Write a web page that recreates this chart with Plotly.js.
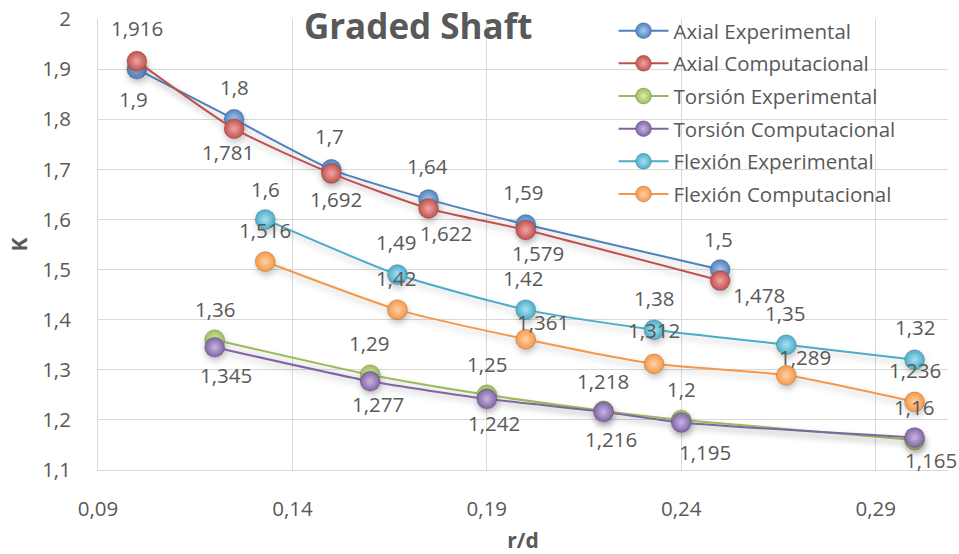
<!DOCTYPE html>
<html>
<head>
<meta charset="utf-8">
<script src="https://cdn.plot.ly/plotly-3.0.1.min.js"></script>
<style>
  html, body { margin: 0; padding: 0; background: #fff; }
  #chart { width: 959px; height: 554px; }
  /* soft shadow under the curves and spheres */
  .scatterlayer .trace { filter: drop-shadow(1px 4px 3px rgba(0,0,0,0.22)); }
</style>
</head>
<body>
<div id="chart"></div>
<script>
// r/d values of each test family
const axialX   = [0.10, 0.125, 0.15, 0.175, 0.20, 0.25];
const torsionX = [0.12, 0.16, 0.19, 0.22, 0.24, 0.30];
const flexionX = [0.133, 0.167, 0.20, 0.233, 0.267, 0.30];

// stress concentration factor K
const axialExp    = [1.9, 1.8, 1.7, 1.64, 1.59, 1.5];
const axialComp   = [1.916, 1.781, 1.692, 1.622, 1.579, 1.478];
const torsionExp  = [1.36, 1.29, 1.25, 1.218, 1.2, 1.16];
const torsionComp = [1.345, 1.277, 1.242, 1.216, 1.195, 1.165];
const flexionExp  = [1.6, 1.49, 1.42, 1.38, 1.35, 1.32];
const flexionComp = [1.516, 1.42, 1.361, 1.312, 1.289, 1.236];

const seriesNames = ['Axial Experimental', 'Axial Computacional',
  'Torsión Experimental', 'Torsión Computacional',
  'Flexión Experimental', 'Flexión Computacional'];

const xTickVals = [0.09, 0.14, 0.19, 0.24, 0.29];

// appearance of each series: base colour, highlight, label offsets [dx, dy] in px
const styles = [
  { color: '#4F81BD', light: '#A9C8EE', off: [[-3,30],[0,-32],[-2,-33],[-1,-33],[-3,-32],[-2,-31]] },
  { color: '#C0504D', light: '#F0A6A4', off: [[0,-33],[-6,23],[5,26],[17,25],[12,23],[39,14]] },
  { color: '#9BBB59', light: '#DCEFAE', off: [[0,-31],[-1,-32],[0,-31],[0,-30],[0,-31],[-1,-33]] },
  { color: '#8064A2', light: '#C9B5E6', off: [[11,28],[8,23],[7,24],[8,27],[24,30],[16,23]] },
  { color: '#4BACC6', light: '#A8E2F2', off: [[0,-30],[-1,-33],[-3,-32],[0,-32],[-1,-32],[0,-33]] },
  { color: '#F79646', light: '#FDD3A6', off: [[0,-32],[-1,-32],[17,-17],[0,-34],[19,-18],[0,-32]] }
];

const seriesX = [axialX, axialX, torsionX, torsionX, flexionX, flexionX];
const seriesY = [axialExp, axialComp, torsionExp, torsionComp, flexionExp, flexionComp];

const fmt = v => String(v).replace('.', ',');

const traces = seriesY.map((ys, i) => ({
  type: 'scatter',
  mode: 'lines+markers',
  name: seriesNames[i],
  legendgroup: 'g' + i,
  x: seriesX[i],
  y: ys,
  line: { color: styles[i].color, width: 2, shape: 'spline', smoothing: 0.6 },
  marker: {
    size: 20,
    color: styles[i].color,
    gradient: { type: 'radial', color: styles[i].light },
    line: { width: 0.6, color: 'rgba(0,0,0,0.25)' }
  },
  hoverinfo: 'x+y'
}));

const labelFont = { family: 'Open Sans, sans-serif', size: 20.5, color: '#595959' };
const annotations = [];
seriesY.forEach((ys, i) => {
  ys.forEach((v, j) => {
    const o = styles[i].off[j];
    annotations.push({
      x: seriesX[i][j], y: v, xref: 'x', yref: 'y',
      text: fmt(v), showarrow: false, font: labelFont,
      xanchor: 'center', yanchor: 'middle',
      xshift: o[0], yshift: -o[1]
    });
  });
});

const gridColor = '#D9D9D9';
const tickFont = { family: 'Open Sans, sans-serif', size: 20.5, color: '#595959' };
const layout = {
  width: 959, height: 554,
  paper_bgcolor: '#ffffff', plot_bgcolor: '#ffffff',
  separators: ',.',
  margin: { l: 98, r: 11, t: 17, b: 84 },
  font: { family: 'Open Sans, sans-serif', color: '#595959' },
  title: {
    text: '<b>Graded Shaft</b>',
    font: { family: 'Open Sans, sans-serif', size: 35, color: '#595959' },
    xref: 'paper', x: 0.3767, xanchor: 'center',
    yref: 'container', y: 0.951, yanchor: 'middle'
  },
  xaxis: {
    range: [0.09, 0.3086],
    tickvals: xTickVals,
    ticktext: xTickVals.map(fmt),
    showgrid: true, gridcolor: gridColor, gridwidth: 1,
    showline: true, linecolor: gridColor, linewidth: 1,
    zeroline: false, ticks: '',
    ticklabelstandoff: 20,
    tickfont: tickFont,
    title: { text: '<b>r/d</b>', font: { family: 'Open Sans, sans-serif', size: 21, color: '#595959' }, standoff: 12 }
  },
  yaxis: {
    range: [1.1, 2.0],
    dtick: 0.1, tick0: 1.1,
    showgrid: true, gridcolor: gridColor, gridwidth: 1,
    showline: true, linecolor: gridColor, linewidth: 1,
    zeroline: false, ticks: '',
    ticklabelstandoff: 22,
    tickfont: tickFont,
    title: { text: '<b>K</b>', font: { family: 'Open Sans, sans-serif', size: 21, color: '#595959' }, standoff: 8 }
  },
  legend: {
    x: 0.6065, xanchor: 'left', y: 1.018, yanchor: 'top',
    bgcolor: 'rgba(255,255,255,0)',
    font: { family: 'Open Sans, sans-serif', size: 20.5, color: '#595959' },
    traceorder: 'grouped', tracegroupgap: 3,
    itemsizing: 'trace', itemwidth: 50
  },
  annotations: annotations,
  showlegend: true
};

Plotly.newPlot('chart', traces, layout, { displayModeBar: false, staticPlot: true });
</script>
</body>
</html>
